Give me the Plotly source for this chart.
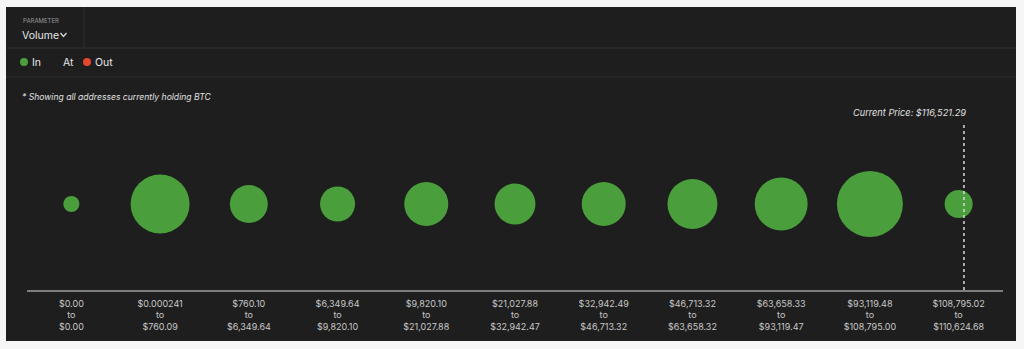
import numpy as np
import plotly.graph_objects as go

# Price buckets (lower / upper bound of each range)
range_low = ["$0.00", "$0.000241", "$760.10", "$6,349.64", "$9,820.10", "$21,027.88",
             "$32,942.49", "$46,713.32", "$63,658.33", "$93,119.48", "$108,795.02"]
range_high = ["$0.00", "$760.09", "$6,349.64", "$9,820.10", "$21,027.88", "$32,942.47",
              "$46,713.32", "$63,658.32", "$93,119.47", "$108,795.00", "$110,624.68"]
# Volume held in each bucket (millions of BTC), all "In the money"
volume_in = [0.23, 3.09, 1.28, 1.09, 1.72, 1.49, 1.72, 2.22, 2.49, 3.87, 0.70]
current_price_label = "Current Price: $116,521.29"

W, H = 1024, 349
L, R, T, B = 27, 1003, 118, 290          # plot area in pixels
BG = "#1e1e1e"
LINE = "#2f2f2f"
GREEN = "#4a9e3b"
RED = "#e5472d"
TXT = "#d6d6d6"

def px(x):
    return (x - L) / (R - L)

def py(y):
    return (B - y) / (B - T)

idx = list(range(len(range_low)))
ticktext = [f"{a}<br>to<br>{b}" for a, b in zip(range_low, range_high)]
vol = np.array(volume_in)
max_d = 66
diam = max_d * np.sqrt(vol / vol.max())

fig = go.Figure()
fig.add_trace(go.Scatter(
    x=idx, y=[0] * len(idx), mode="markers",
    marker=dict(size=diam, sizemode="diameter", color=GREEN, line=dict(width=0), opacity=1),
    hoverinfo="skip", showlegend=False,
))

shapes = [
    # dark panel
    dict(type="rect", xref="paper", yref="paper", x0=px(6), x1=px(1016), y0=py(341), y1=py(7),
         fillcolor=BG, line=dict(width=0), layer="below"),
    # header separators
    dict(type="line", xref="paper", yref="paper", x0=px(6), x1=px(1016), y0=py(48), y1=py(48),
         line=dict(color=LINE, width=1), layer="below"),
    dict(type="line", xref="paper", yref="paper", x0=px(6), x1=px(1016), y0=py(77), y1=py(77),
         line=dict(color=LINE, width=1), layer="below"),
    dict(type="line", xref="paper", yref="paper", x0=px(84), x1=px(84), y0=py(48), y1=py(7),
         line=dict(color=LINE, width=1), layer="below"),
    # dropdown chevron
    dict(type="path", xref="paper", yref="paper",
         path=f"M {px(60.5)} {py(33)} L {px(63.5)} {py(36.5)} L {px(66.5)} {py(33)}",
         line=dict(color=TXT, width=1.3)),
    # legend dots
    dict(type="circle", xref="paper", yref="paper", x0=px(20), x1=px(28), y0=py(66), y1=py(58),
         fillcolor=GREEN, line=dict(width=0)),
    dict(type="circle", xref="paper", yref="paper", x0=px(83), x1=px(91), y0=py(66), y1=py(58),
         fillcolor=RED, line=dict(width=0)),
]

# current price marker
price_x = len(idx) - 1 + 0.06
shapes.append(dict(type="line", xref="x", yref="paper", x0=price_x, x1=price_x,
                   y0=0, y1=py(122), line=dict(color="#d8d8d8", width=1.5, dash="dot")))

annotations = [
    dict(text="PARAMETER", x=px(21), y=py(20), xanchor="left", yanchor="middle",
         font=dict(size=6, color="#9a9a9a")),
    dict(text="Volume", x=px(20), y=py(35), xanchor="left", yanchor="middle",
         font=dict(size=10.5, color="#e6e6e6")),
    dict(text="In", x=px(30), y=py(62), xanchor="left", yanchor="middle",
         font=dict(size=10.5, color="#e6e6e6")),
    dict(text="At", x=px(61), y=py(62), xanchor="left", yanchor="middle",
         font=dict(size=10.5, color="#e6e6e6")),
    dict(text="Out", x=px(93), y=py(62), xanchor="left", yanchor="middle",
         font=dict(size=10.5, color="#e6e6e6")),
    dict(text="<i>* Showing all addresses currently holding BTC</i>", x=px(20), y=py(97),
         xanchor="left", yanchor="middle", font=dict(size=8.6, color="#e0e0e0")),
    dict(text=f"<i>{current_price_label}</i>", x=px(968), y=py(113), xanchor="right",
         yanchor="middle", font=dict(size=9.2, color="#e0e0e0")),
]
for a in annotations:
    a.update(xref="paper", yref="paper", showarrow=False)

fig.update_layout(
    width=W, height=H,
    margin=dict(l=L, r=W - R, t=T, b=H - B),
    paper_bgcolor="#f6f6f6", plot_bgcolor="rgba(0,0,0,0)",
    font=dict(family="Inter, Roboto, sans-serif", color=TXT),
    shapes=shapes, annotations=annotations,
    xaxis=dict(range=[-0.5, 10.5], tickmode="array", tickvals=idx, ticktext=ticktext,
               showgrid=False, zeroline=False, showline=True, linecolor="#7d7d7d",
               linewidth=1.5, ticks="", tickfont=dict(size=9, color="#c8c8c8"),
               ticklabelstandoff=4, fixedrange=True),
    yaxis=dict(range=[-1, 1], visible=False, fixedrange=True),
    showlegend=False,
)

fig.write_html("out.html")
